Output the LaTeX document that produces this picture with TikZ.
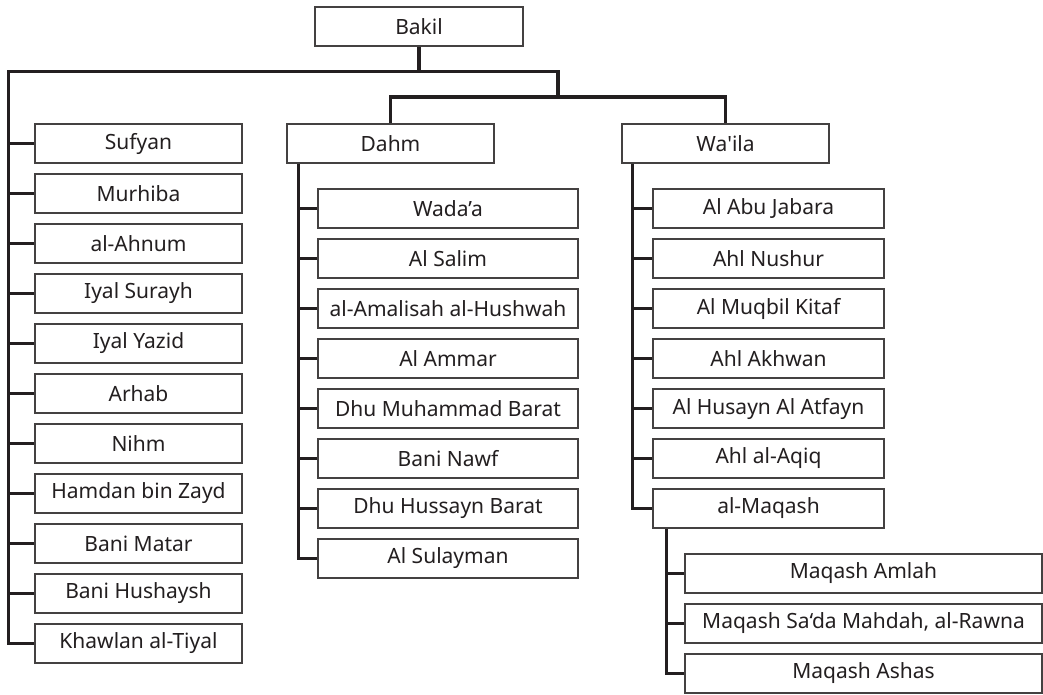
\documentclass[tikz,border=0pt]{standalone}
\usepackage{fontspec}
\setmainfont{Noto Sans}
\usepackage{tikz}
\definecolor{ink}{HTML}{231F20}

\begin{document}
\begin{tikzpicture}[x=1pt,y=-1pt,
  box/.style={draw=ink!85,line width=1.3pt,fill=white,inner sep=0pt,
    minimum height=39pt,text=ink,font=\fontsize{21}{24}\selectfont},
  clan/.style={box,minimum width=207pt},
  dahmsub/.style={box,minimum width=260pt},
  wailasub/.style={box,minimum width=231pt},
  maqashsub/.style={box,minimum width=357pt},
  conn/.style={draw=ink,line width=3.5pt}]
\useasboundingbox (0,0) rectangle (1043,694);

\node[box,minimum width=208pt] (bakil) at (419,26.5) {Bakil};

% left column
\node[clan] (sufyan) at (138.5,143.5) {Sufyan};
\node[clan] (murhiba) at (138.5,193.5) {Murhiba};
\node[clan] (ahnum) at (138.5,243.5) {al-Ahnum};
\node[clan] (surayh) at (138.5,293.5) {Iyal Surayh};
\node[clan] (yazid) at (138.5,343.5) {Iyal Yazid};
\node[clan] (arhab) at (138.5,393.5) {Arhab};
\node[clan] (nihm) at (138.5,443.5) {Nihm};
\node[clan] (hamdan) at (138.5,493.5) {Hamdan bin Zayd};
\node[clan] (matar) at (138.5,543.5) {Bani Matar};
\node[clan] (hushaysh) at (138.5,593.5) {Bani Hushaysh};
\node[clan] (khawlan) at (138.5,643.5) {Khawlan al-Tiyal};

% Dahm
\node[clan] (dahm) at (390.5,143.5) {Dahm};
\node[dahmsub] (wadaa) at (448,208.5) {Wada’a};
\node[dahmsub] (salim) at (448,258.5) {Al Salim};
\node[dahmsub] (amalisah) at (448,308.5) {al-Amalisah al-Hushwah};
\node[dahmsub] (ammar) at (448,358.5) {Al Ammar};
\node[dahmsub] (muhammad) at (448,408.5) {Dhu Muhammad Barat};
\node[dahmsub] (nawf) at (448,458.5) {Bani Nawf};
\node[dahmsub] (hussayn) at (448,508.5) {Dhu Hussayn Barat};
\node[dahmsub] (sulayman) at (448,558.5) {Al Sulayman};

% Wa'ila
\node[clan] (waila) at (725.5,143.5) {Wa\textquotesingle ila};
\node[wailasub] (jabara) at (768.5,208.5) {Al Abu Jabara};
\node[wailasub] (nushur) at (768.5,258.5) {Ahl Nushur};
\node[wailasub] (kitaf) at (768.5,308.5) {Al Muqbil Kitaf};
\node[wailasub] (akhwan) at (768.5,358.5) {Ahl Akhwan};
\node[wailasub] (atfayn) at (768.5,408.5) {Al Husayn Al Atfayn};
\node[wailasub] (aqiq) at (768.5,458.5) {Ahl al-Aqiq};
\node[wailasub] (maqash) at (768.5,508.5) {al-Maqash};
\node[maqashsub] (amlah) at (863.5,573.5) {Maqash Amlah};
\node[maqashsub] (rawna) at (863.5,623.5) {Maqash Sa‘da Mahdah, al-Rawna};
\node[maqashsub] (ashas) at (863.5,673.5) {Maqash Ashas};

\coordinate (barL) at (8.5,71.5);
\coordinate (barR) at (558,71.5);
\coordinate (split) at (558,97);
\coordinate (dahmL) at ([xshift=12pt]dahm.south west);
\coordinate (wailaL) at ([xshift=11pt]waila.south west);
\coordinate (maqashL) at ([xshift=14pt]maqash.south west);

\draw[conn] (bakil.south) -- (bakil.south |- barL);
\draw[conn] (khawlan.west) -| (barL) -- (barR) -- (split);
\draw[conn] (dahm.north) |- (split) -| (waila.north);

\draw[conn] (sufyan.west) -- (sufyan.west -| barL);
\draw[conn] (murhiba.west) -- (murhiba.west -| barL);
\draw[conn] (ahnum.west) -- (ahnum.west -| barL);
\draw[conn] (surayh.west) -- (surayh.west -| barL);
\draw[conn] (yazid.west) -- (yazid.west -| barL);
\draw[conn] (arhab.west) -- (arhab.west -| barL);
\draw[conn] (nihm.west) -- (nihm.west -| barL);
\draw[conn] (hamdan.west) -- (hamdan.west -| barL);
\draw[conn] (matar.west) -- (matar.west -| barL);
\draw[conn] (hushaysh.west) -- (hushaysh.west -| barL);

\draw[conn] (dahmL) |- (sulayman.west);
\draw[conn] (wadaa.west) -- (wadaa.west -| dahmL);
\draw[conn] (salim.west) -- (salim.west -| dahmL);
\draw[conn] (amalisah.west) -- (amalisah.west -| dahmL);
\draw[conn] (ammar.west) -- (ammar.west -| dahmL);
\draw[conn] (muhammad.west) -- (muhammad.west -| dahmL);
\draw[conn] (nawf.west) -- (nawf.west -| dahmL);
\draw[conn] (hussayn.west) -- (hussayn.west -| dahmL);

\draw[conn] (wailaL) |- (maqash.west);
\draw[conn] (jabara.west) -- (jabara.west -| wailaL);
\draw[conn] (nushur.west) -- (nushur.west -| wailaL);
\draw[conn] (kitaf.west) -- (kitaf.west -| wailaL);
\draw[conn] (akhwan.west) -- (akhwan.west -| wailaL);
\draw[conn] (atfayn.west) -- (atfayn.west -| wailaL);
\draw[conn] (aqiq.west) -- (aqiq.west -| wailaL);

\draw[conn] (maqashL) |- (ashas.west);
\draw[conn] (amlah.west) -- (amlah.west -| maqashL);
\draw[conn] (rawna.west) -- (rawna.west -| maqashL);
\end{tikzpicture}
\end{document}
